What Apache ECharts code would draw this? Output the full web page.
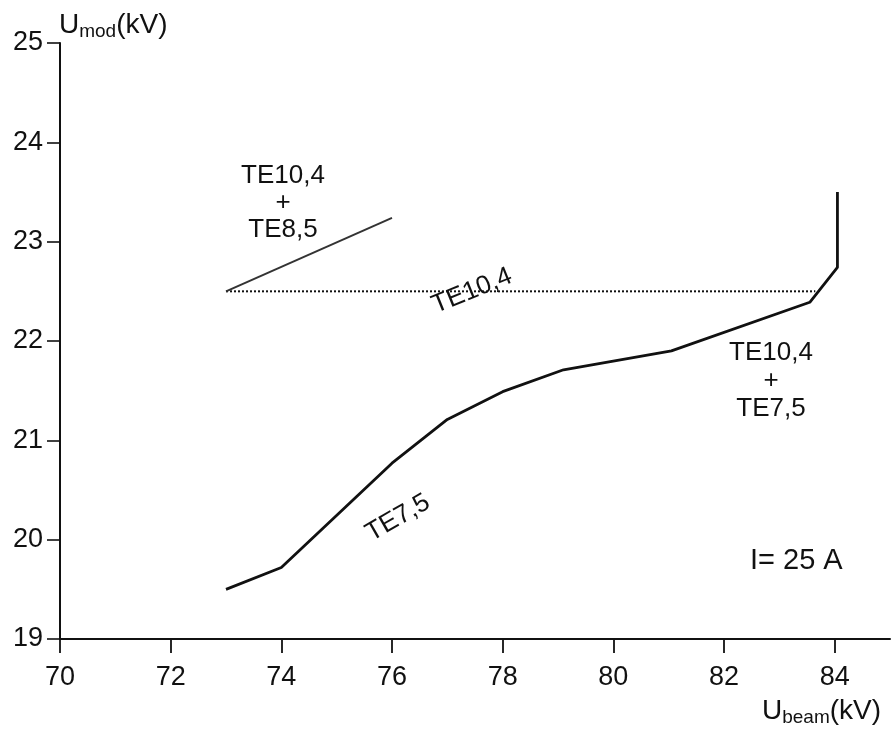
<!DOCTYPE html>
<html>
<head>
<meta charset="utf-8">
<script src="https://cdn.jsdelivr.net/npm/echarts@6/dist/echarts.min.js"></script>
<style>
html,body{margin:0;padding:0;background:#fff;}
#chart{width:891px;height:730px;}
</style>
</head>
<body>
<div id="chart"></div>
<script>
// ---- data ----
const xTicks = [70, 72, 74, 76, 78, 80, 82, 84];
const yTicks = [19, 20, 21, 22, 23, 24, 25];
// TE7,5 -> TE10,4+TE7,5 (solid)
const te75X = [73, 74, 76, 77, 78, 79.1, 81.05, 83.55, 84.05, 84.05];
const te75Y = [19.5, 19.72, 20.77, 21.21, 21.49, 21.71, 21.9, 22.39, 22.74, 23.5];
// TE10,4 (dotted)
const te104X = [73, 83.65];
const te104Y = [22.5, 22.5];
// TE10,4 + TE8,5 (solid)
const te104p85X = [73, 76];
const te104p85Y = [22.5, 23.24];

const pairs = (xs, ys) => xs.map((x, i) => [x, ys[i]]);
const FONT = '"Liberation Sans", Arial, sans-serif';
const INK = '#111';

const chart = echarts.init(document.getElementById('chart'), null, {renderer: 'canvas'});
chart.setOption({
  animation: false,
  backgroundColor: '#fff',
  grid: {left: 60, right: 1, top: 43, bottom: 91, containLabel: false},
  xAxis: {
    type: 'value', min: 70, max: 85, interval: 2,
    axisLine: {show: true, onZero: false, lineStyle: {color: INK, width: 2}},
    axisTick: {show: true, inside: false, length: 14, customValues: xTicks, lineStyle: {color: INK, width: 1.8}},
    axisLabel: {show: true, margin: 25, customValues: xTicks, fontSize: 27, fontFamily: FONT, color: INK},
    splitLine: {show: false}
  },
  yAxis: {
    type: 'value', min: 19, max: 25, interval: 1,
    axisLine: {show: true, onZero: false, lineStyle: {color: INK, width: 2}},
    axisTick: {show: true, inside: false, length: 13, customValues: yTicks, lineStyle: {color: INK, width: 1.6}},
    axisLabel: {show: true, margin: 17, customValues: yTicks, fontSize: 27, fontFamily: FONT, color: INK},
    splitLine: {show: false}
  },
  series: [
    {type: 'line', data: pairs(te75X, te75Y), symbol: 'none', lineStyle: {color: INK, width: 2.8}, z: 3},
    {type: 'line', data: pairs(te104X, te104Y), symbol: 'none', lineStyle: {color: INK, width: 2, type: 'dotted'}, z: 2},
    {type: 'line', data: pairs(te104p85X, te104p85Y), symbol: 'none', lineStyle: {color: '#333', width: 2}, z: 2}
  ],
  graphic: [
    {type: 'text', left: 59, top: 11, style: {
      text: '{a|U}{b|mod}{a|(kV)}', fontFamily: FONT, fill: INK,
      rich: {a: {fontSize: 28, lineHeight: 32, fontFamily: FONT, fill: INK},
             b: {fontSize: 19, lineHeight: 19, verticalAlign: 'bottom', fontFamily: FONT, fill: INK}}
    }},
    {type: 'text', left: 762, top: 697, style: {
      text: '{a|U}{b|beam}{a|(kV)}', fontFamily: FONT, fill: INK,
      rich: {a: {fontSize: 28, lineHeight: 32, fontFamily: FONT, fill: INK},
             b: {fontSize: 19, lineHeight: 19, verticalAlign: 'bottom', fontFamily: FONT, fill: INK}}
    }},
    {type: 'text', left: 750, top: 546, style: {text: 'I= 25 A', fontSize: 29, fontFamily: FONT, fill: INK}},
    {type: 'text', x: 283, y: 203, style: {text: 'TE10,4\n+\nTE8,5', align: 'center', verticalAlign: 'middle', lineHeight: 27, fontSize: 26, fontFamily: FONT, fill: INK}},
    {type: 'text', x: 771, y: 381, style: {text: 'TE10,4\n+\nTE7,5', align: 'center', verticalAlign: 'middle', lineHeight: 28, fontSize: 26, fontFamily: FONT, fill: INK}},
    {type: 'text', x: 472, y: 291, rotation: 22 * Math.PI / 180, style: {text: 'TE10,4', align: 'center', verticalAlign: 'middle', fontSize: 26, fontFamily: FONT, fill: INK}},
    {type: 'text', x: 398, y: 518, rotation: 30 * Math.PI / 180, style: {text: 'TE7,5', align: 'center', verticalAlign: 'middle', fontSize: 26, fontFamily: FONT, fill: INK}}
  ]
});
</script>
</body>
</html>
